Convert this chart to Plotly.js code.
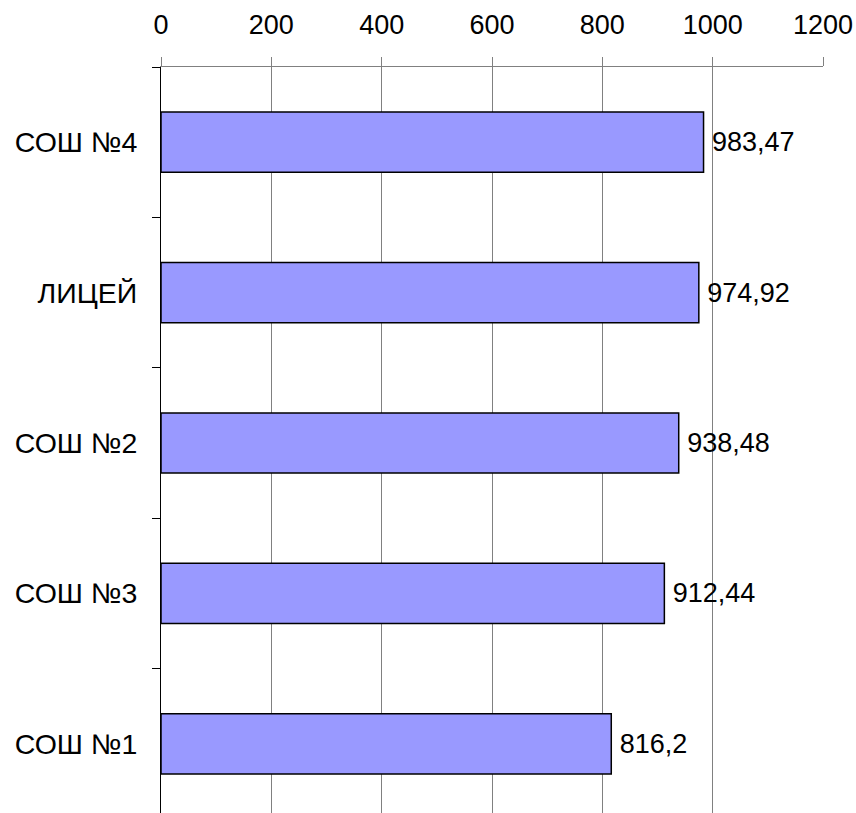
<!DOCTYPE html>
<html>
<head>
<meta charset="utf-8">
<script src="https://cdn.plot.ly/plotly-3.0.1.min.js"></script>
<style>html,body{margin:0;padding:0;background:#fff;}#chart{width:856px;height:813px;}</style>
</head>
<body>
<div id="chart"></div>
<script>
var categories = ["СОШ №1", "СОШ №3", "СОШ №2", "ЛИЦЕЙ", "СОШ №4"];
var values = [816.2, 912.44, 938.48, 974.92, 983.47];
var tickVals = [0, 200, 400, 600, 800, 1000, 1200];

var labels = values.map(function(v){ return '\u2009' + String(v).replace('.', ','); });

var trace = {
  type: 'bar',
  orientation: 'h',
  y: categories,
  x: values,
  text: labels,
  textposition: 'outside',
  constraintext: 'none',
  cliponaxis: false,
  textfont: {family: 'Liberation Sans, Arial, sans-serif', size: 27, color: '#000'},
  marker: {color: '#9999FF', line: {color: '#000', width: 1.5}},
  hoverinfo: 'none'
};

var layout = {
  width: 856, height: 813,
  margin: {l: 161, r: 33, t: 67, b: 0, pad: 0},
  paper_bgcolor: '#fff', plot_bgcolor: '#fff',
  showlegend: false,
  bargap: 0.6,
  font: {family: 'Liberation Sans, Arial, sans-serif', size: 27, color: '#000'},
  xaxis: {
    side: 'top',
    range: [0, 1200],
    tickvals: tickVals,
    ticktext: tickVals.map(String),
    showgrid: true, gridcolor: '#808080', gridwidth: 1,
    zeroline: false,
    showline: true, linecolor: '#808080', linewidth: 1,
    ticks: 'outside', ticklen: 9, tickcolor: '#808080', tickwidth: 1,
    tickfont: {size: 27, color: '#000'},
    ticklabelstandoff: 12,
    fixedrange: true
  },
  yaxis: {
    type: 'category',
    range: [-0.46, 4.5],
    showgrid: false, zeroline: false,
    showline: true, linecolor: '#000', linewidth: 1,
    ticks: 'outside', ticklen: 8, tickcolor: '#000', tickwidth: 1,
    tickson: 'boundaries',
    tickfont: {size: 28.5, color: '#000'},
    ticklabelstandoff: 17,
    fixedrange: true
  }
};

Plotly.newPlot('chart', [trace], layout, {displayModeBar: false, staticPlot: true});
</script>
</body>
</html>
